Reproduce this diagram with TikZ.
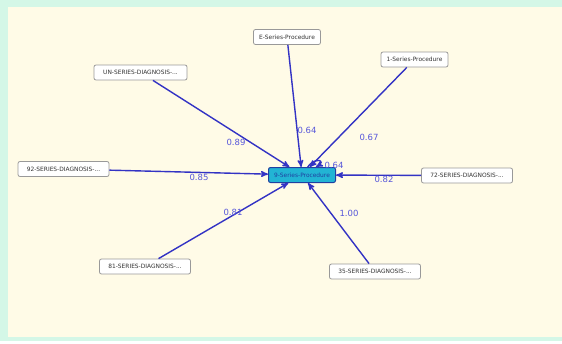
\documentclass[tikz,border=0pt]{standalone}
\usepackage{fontspec}
\setmainfont{DejaVu Sans}
\usetikzlibrary{arrows}
\definecolor{mint}{HTML}{D4F7E7}
\definecolor{cream}{HTML}{FFFBE7}
\definecolor{linkblue}{HTML}{3333C4}
\definecolor{weightblue}{HTML}{5656DA}
\definecolor{hubfill}{HTML}{22B4D4}
\definecolor{hubline}{HTML}{2040A0}
\tikzset{
x=1pt, y=-1pt, % screen-like units, y grows downwards
>=stealth', % small filled arrow heads
every edge/.style={draw=linkblue, line width=1.4pt, ->}, % all links point to the hub
item/.style={draw=gray!80, fill=white, rounded corners=2pt, minimum height=15, inner xsep=2pt,
  line width=0.8pt, font=\fontsize{5.9}{6.5}\selectfont, text=black!80}, % plain boxes
proc/.style={item, minimum width=67}, % procedure boxes
diag/.style={item, minimum width=91}, % diagnosis boxes
hub/.style={item, draw=hubline, fill=hubfill, text=hubline, line width=1pt, minimum width=67}, % the centre box
weight/.style={text=weightblue, font=\fontsize{8.5}{9}\selectfont}, % link weights
}

\begin{document}
\begin{tikzpicture}
\useasboundingbox (0,0) rectangle (562,343);
% backdrop
\fill[mint] (0,0) rectangle (562,343);
\fill[cream] (8,7) rectangle (562,337);
\fill[white] (0,341) rectangle (562,343);

\node[hub] (c) at (302,175) {9-Series-Procedure};
\node[proc] (e) at (287,37) {E-Series-Procedure};
\node[proc] (one) at (414.5,59.5) {1-Series-Procedure};
\node[diag, minimum width=93] (un) at (140.5,72.5) {UN-SERIES-DIAGNOSIS-...};
\node[diag] (d92) at (63.5,169) {92-SERIES-DIAGNOSIS-...};
\node[diag] (d72) at (467,175.5) {72-SERIES-DIAGNOSIS-...};
\node[diag] (d81) at (145,266.5) {81-SERIES-DIAGNOSIS-...};
\node[diag] (d35) at (375,271.5) {35-SERIES-DIAGNOSIS-...};

\draw
    (un) edge (c)
    (e) edge (c)
    (one) edge (c)
    (d92) edge (c)
    (d72) edge (c)
    (d81) edge (c)
    (d35) edge (c)
    (c) edge[out=55, in=30, looseness=4, min distance=4pt] (c)
    ;

\node[weight] (w1) at (236,142) {0.89};
\node[weight] (w2) at (307,130) {0.64};
\node[weight] (w3) at (369,137) {0.67};
\node[weight] (w4) at (334,165) {0.64};
\node[weight] (w5) at (199,177) {0.85};
\node[weight] (w6) at (384,179) {0.82};
\node[weight] (w7) at (233,212) {0.81};
\node[weight] (w8) at (349,213) {1.00};
\end{tikzpicture}
\end{document}
